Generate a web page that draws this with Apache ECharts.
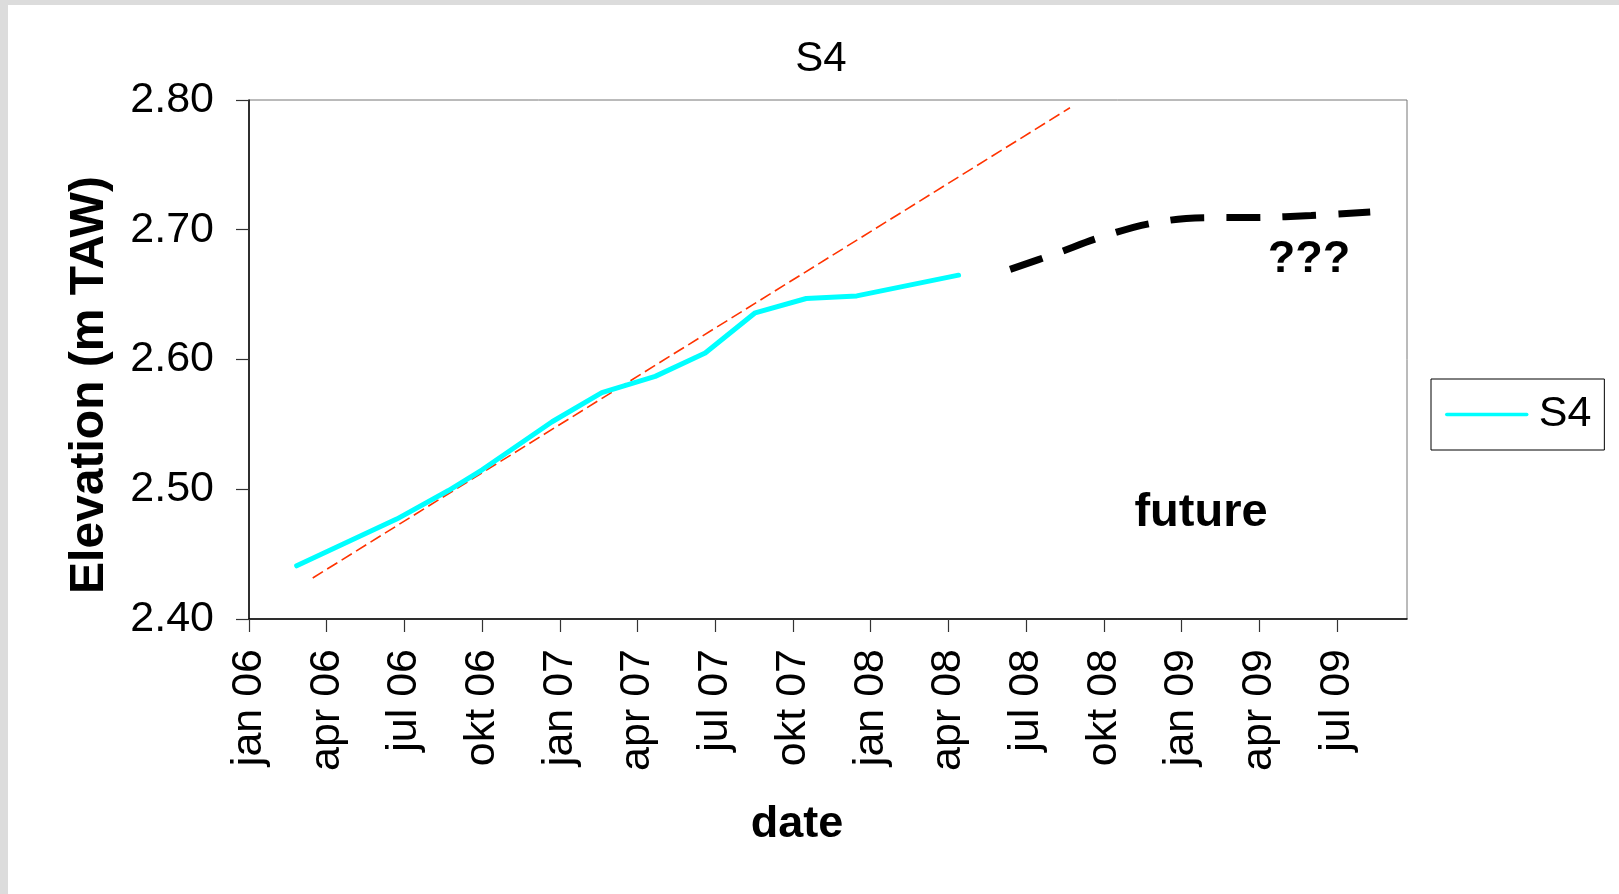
<!DOCTYPE html>
<html>
<head>
<meta charset="utf-8">
<style>
  html, body { margin: 0; padding: 0; background: #ffffff; }
  #chart { width: 1619px; height: 894px; }
</style>
<script src="https://cdn.jsdelivr.net/npm/echarts@6/dist/echarts.min.js"></script>
</head>
<body>
<div id="chart"></div>
<script>
// x positions are months since 1 jan 2006
const tickLabels = ['jan 06','apr 06','jul 06','okt 06','jan 07','apr 07','jul 07','okt 07',
                    'jan 08','apr 08','jul 08','okt 08','jan 09','apr 09','jul 09'];
const tickMonths = [0, 3, 6, 9, 12, 15, 18, 21, 24, 27, 30, 33, 36, 39, 42];

const s4Months = [1.84, 5.70, 7.7, 9.0, 11.7, 13.62, 15.68, 17.61, 19.54, 21.51, 23.46, 27.39];
const s4Values = [2.441, 2.477, 2.499, 2.515, 2.552, 2.5745, 2.587, 2.605, 2.636, 2.647, 2.649, 2.665];

const trendMonths = [2.46, 31.69];
const trendValues = [2.4316, 2.794];

const futureMonths = [29.38, 31, 33, 35, 37, 39, 41, 43.28];
const futureValues = [2.6695, 2.6806, 2.695, 2.7056, 2.7093, 2.7095, 2.711, 2.7136];

const FONT = '"Liberation Sans", Arial, sans-serif';
const zip = (a, b) => a.map((v, i) => [v, b[i]]);

const chart = echarts.init(document.getElementById('chart'), null, { renderer: 'canvas' });
chart.setOption({
  animation: false,
  backgroundColor: '#ffffff',
  textStyle: { fontFamily: FONT },
  grid: {
    left: 249, top: 100, right: 212, bottom: 275,
    show: true, borderColor: '#777777', borderWidth: 1, backgroundColor: 'transparent'
  },
  xAxis: {
    type: 'value',
    min: 0, max: 44.7, interval: 3,
    splitLine: { show: false },
    axisLine: { show: true, onZero: false, lineStyle: { color: '#000000', width: 1.5 } },
    axisTick: { show: true, inside: false, length: 13, customValues: tickMonths,
                lineStyle: { color: '#333333', width: 1.2 } },
    axisLabel: {
      customValues: tickMonths,
      rotate: 90, margin: 30,
      fontSize: 43, color: '#000000', fontFamily: FONT,
      formatter: function (v) {
        const i = tickMonths.indexOf(Math.round(v));
        return i >= 0 ? tickLabels[i] : '';
      }
    }
  },
  yAxis: {
    type: 'value',
    min: 2.4, max: 2.8, interval: 0.1,
    splitLine: { show: false },
    axisLine: { show: true, onZero: false, lineStyle: { color: '#000000', width: 1.5 } },
    axisTick: { show: true, inside: false, length: 13, lineStyle: { color: '#333333', width: 1.2 } },
    axisLabel: {
      margin: 35, fontSize: 43, color: '#000000', fontFamily: FONT,
      formatter: function (v) { return v.toFixed(2); }
    }
  },
  legend: {
    data: ['S4'],
    orient: 'vertical',
    left: 1431, top: 379,
    padding: [14, 13, 14, 14],
    itemWidth: 80, itemHeight: 20,
    backgroundColor: '#ffffff',
    borderColor: '#000000', borderWidth: 1,
    itemStyle: { opacity: 0 },
    lineStyle: { width: 3.5, color: '#00ffff' },
    textStyle: { fontSize: 43, color: '#000000', fontFamily: FONT, padding: [0, 0, 0, 7] }
  },
  series: [
    {
      name: 'trend', type: 'line', data: zip(trendMonths, trendValues),
      symbol: 'none', silent: true, z: 2,
      itemStyle: { color: '#ff3300' },
      lineStyle: { color: '#ff3300', width: 1.6, type: [12, 5] }
    },
    {
      name: 'S4', type: 'line', data: zip(s4Months, s4Values),
      symbol: 'none', z: 3,
      itemStyle: { color: '#00ffff' },
      lineStyle: { color: '#00ffff', width: 5, cap: 'round', join: 'round' }
    },
    {
      name: 'future', type: 'line', data: zip(futureMonths, futureValues),
      symbol: 'none', smooth: 0.4, silent: true, z: 3,
      itemStyle: { color: '#000000' },
      lineStyle: { color: '#000000', width: 7, type: [34, 22], cap: 'butt' }
    }
  ],
  graphic: [
    { type: 'rect', shape: { x: 0, y: 0, width: 1619, height: 5 }, style: { fill: '#dcdcdc' }, silent: true, z: 100 },
    { type: 'rect', shape: { x: 0, y: 0, width: 8, height: 894 }, style: { fill: '#dcdcdc' }, silent: true, z: 100 },
    { type: 'text', x: 821, y: 59, silent: true,
      style: { text: 'S4', fontSize: 42, fontFamily: FONT, fill: '#000', textAlign: 'center', textVerticalAlign: 'middle' } },
    { type: 'text', x: 90, y: 385, rotation: Math.PI / 2, silent: true,
      style: { text: 'Elevation (m TAW)', fontSize: 48, fontWeight: 'bold', fontFamily: FONT, fill: '#000', textAlign: 'center', textVerticalAlign: 'middle' } },
    { type: 'text', x: 797, y: 825, silent: true,
      style: { text: 'date', fontSize: 45, fontWeight: 'bold', fontFamily: FONT, fill: '#000', textAlign: 'center', textVerticalAlign: 'middle' } },
    { type: 'text', x: 1201, y: 513, silent: true,
      style: { text: 'future', fontSize: 47, fontWeight: 'bold', fontFamily: FONT, fill: '#000', textAlign: 'center', textVerticalAlign: 'middle' } },
    { type: 'text', x: 1309, y: 260, silent: true,
      style: { text: '???', fontSize: 45, fontWeight: 'bold', fontFamily: FONT, fill: '#000', textAlign: 'center', textVerticalAlign: 'middle' } }
  ]
});
</script>
</body>
</html>
